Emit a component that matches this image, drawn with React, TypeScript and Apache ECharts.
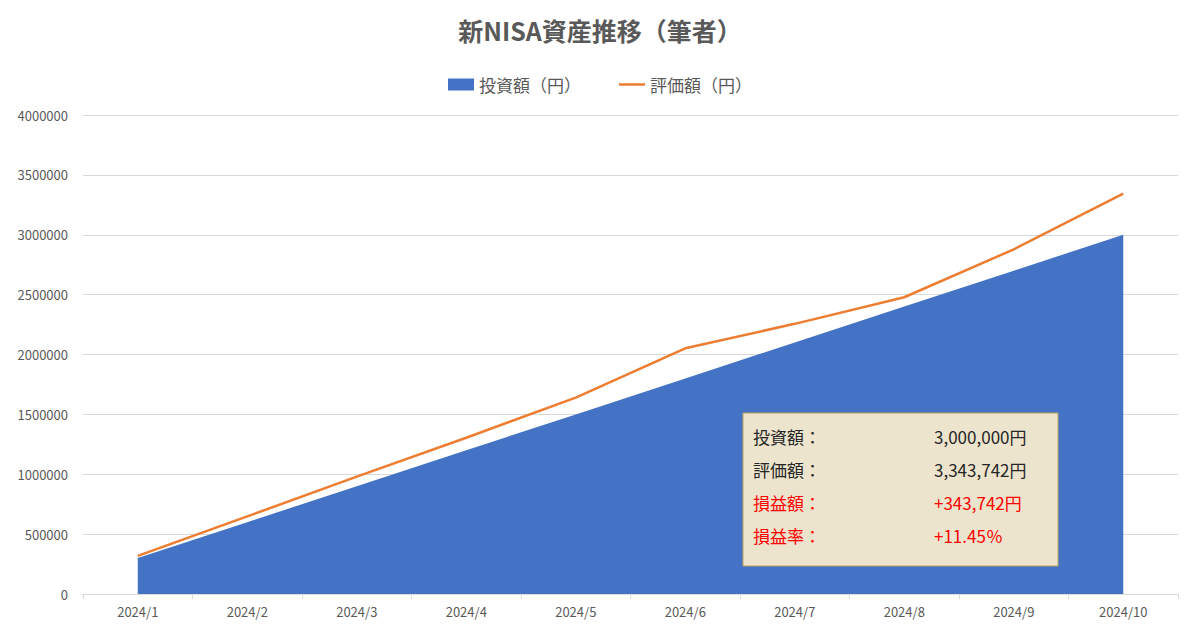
import React, { useEffect, useRef } from "react";
import * as echarts from "echarts";

const months = ["2024/1", "2024/2", "2024/3", "2024/4", "2024/5", "2024/6", "2024/7", "2024/8", "2024/9", "2024/10"];
const invested = [300000, 600000, 900000, 1200000, 1500000, 1800000, 2100000, 2400000, 2700000, 3000000];
const valuation = [318000, 648000, 980000, 1305000, 1640000, 2052000, 2256000, 2478000, 2878000, 3343742];
const boxLabels = ["投資額：", "評価額：", "損益額：", "損益率："];
const boxValues = ["3,000,000円", "3,343,742円", "+343,742円", "+11.45％"];
const boxColors = ["#262626", "#262626", "#ff0000", "#ff0000"];

const FONT = "'Noto Sans CJK JP', 'Noto Sans', sans-serif";

export default function App() {
  const ref = useRef<HTMLDivElement>(null);
  useEffect(() => {
    if (!ref.current) return;
    const chart = echarts.init(ref.current, undefined, { renderer: "svg" });
    const boxEls: any[] = [
      {
        type: "rect",
        shape: { x: 743, y: 413, width: 315, height: 153 },
        style: { fill: "#ece4cc", stroke: "#bfa25a", lineWidth: 1 },
        z: 100,
      },
    ];
    boxLabels.forEach((t, i) => {
      boxEls.push({
        type: "text",
        x: 753,
        y: 436 + i * 33,
        style: { text: t, fill: boxColors[i], font: `17px ${FONT}`, textVerticalAlign: "middle" },
        z: 101,
      });
      boxEls.push({
        type: "text",
        x: 934,
        y: 436 + i * 33,
        style: { text: boxValues[i], fill: boxColors[i], font: `17px ${FONT}`, textVerticalAlign: "middle" },
        z: 101,
      });
    });
    chart.setOption({
      animation: false,
      backgroundColor: "#ffffff",
      title: {
        text: "新NISA資産推移（筆者）",
        left: "center",
        top: 12,
        textStyle: { fontFamily: FONT, fontSize: 25, fontWeight: "bold", color: "#595959" },
      },
      legend: {
        top: 71,
        left: "center",
        itemGap: 38,
        itemWidth: 26,
        itemHeight: 12,
        textStyle: { fontFamily: FONT, fontSize: 17, color: "#595959" },
        data: [
          { name: "投資額（円）", icon: "rect" },
          { name: "評価額（円）", icon: "path://M0,0h0.01v0.01h-0.01zM0,4.75h26v2.5h-26zM0,11.99h0.01v0.01h-0.01z" },
        ],
      },
      grid: { left: 83, right: 22, top: 115, bottom: 36, containLabel: false },
      xAxis: {
        type: "category",
        data: months,
        boundaryGap: true,
        axisLine: { lineStyle: { color: "#d9d9d9" } },
        axisTick: { show: true, length: 5, lineStyle: { color: "#d9d9d9" } },
        axisLabel: { fontFamily: FONT, fontSize: 13, color: "#595959", margin: 11 },
      },
      yAxis: {
        type: "value",
        min: 0,
        max: 4000000,
        interval: 500000,
        axisLine: { show: false },
        axisTick: { show: false },
        splitLine: { lineStyle: { color: "#d9d9d9" } },
        axisLabel: { fontFamily: FONT, fontSize: 13, color: "#595959", margin: 15, formatter: (v: number) => String(v) },
      },
      series: [
        {
          name: "投資額（円）",
          type: "line",
          data: invested,
          symbol: "none",
          lineStyle: { width: 0, color: "#4472c4" },
          itemStyle: { color: "#4472c4" },
          areaStyle: { color: "#4472c4", opacity: 1 },
          z: 2,
        },
        {
          name: "評価額（円）",
          type: "line",
          data: valuation,
          symbol: "none",
          lineStyle: { width: 2.5, color: "#ed7d31" },
          itemStyle: { color: "#ed7d31" },
          z: 3,
        },
      ],
      graphic: boxEls,
    });
    return () => chart.dispose();
  }, []);
  return <div ref={ref} style={{ width: 1200, height: 630, position: "absolute", left: 0, top: 0 }} />;
}
